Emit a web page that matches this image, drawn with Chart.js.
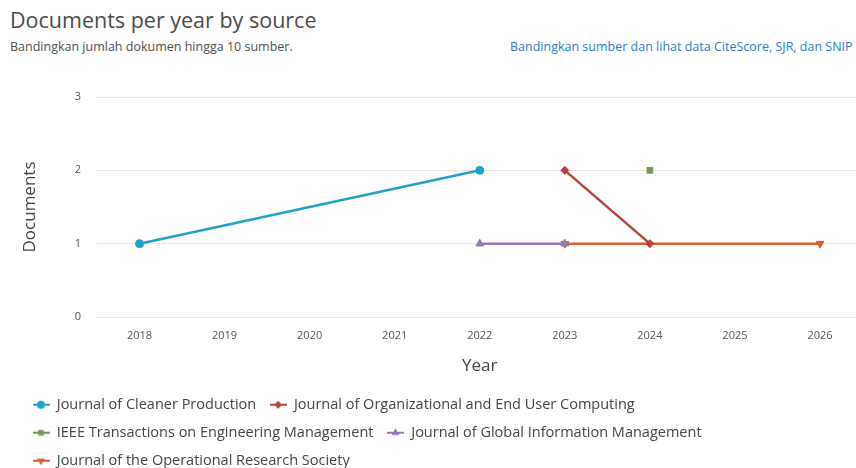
<!DOCTYPE html>
<html>
<head>
<meta charset="utf-8">
<script src="https://cdn.jsdelivr.net/npm/chart.js@4.4.1/dist/chart.umd.min.js"></script>
<style>
  html, body { margin: 0; padding: 0; background: #fff; overflow: hidden; width: 856px; height: 468px; }
  body { position: relative; font-family: "Open Sans", sans-serif; }
  #title { position: absolute; left: 10px; top: 5px; font-size: 21.5px; color: #4b4b4b; white-space: nowrap; }
  #sub { position: absolute; left: 10px; top: 38px; font-size: 12.5px; color: #505050; white-space: nowrap; }
  #link { position: absolute; left: 510px; top: 38px; font-size: 12.5px; color: #2e7bcf; white-space: nowrap; }
  #chart { position: absolute; left: 0; top: 0; }
</style>
</head>
<body>
<div id="title">Documents per year by source</div>
<div id="sub">Bandingkan jumlah dokumen hingga 10 sumber.</div>
<div id="link">Bandingkan sumber dan lihat data CiteScore, SJR, dan SNIP</div>
<canvas id="chart" width="868" height="478"></canvas>
<script>
const years = ["2018", "2019", "2020", "2021", "2022", "2023", "2024", "2025", "2026"];
const yTicks = [0, 1, 2, 3];
const cleanerProd = [1, null, null, null, 2, null, null, null, null];
const orgEndUser = [null, null, null, null, null, 2, 1, null, null];
const ieeeTem = [null, null, null, null, null, null, 2, null, null];
const globalInfo = [null, null, null, null, 1, 1, null, null, null];
const opResearch = [null, null, null, null, null, 1, null, null, 1];

// small line+marker icon for the legend, like the original
function legendIcon(color, style, rot, r) {
  const c = document.createElement("canvas");
  c.width = 17; c.height = 12;
  const g = c.getContext("2d");
  g.strokeStyle = color; g.lineWidth = 2;
  g.beginPath(); g.moveTo(0, 6); g.lineTo(17, 6); g.stroke();
  g.fillStyle = color;
  Chart.helpers.drawPoint(g, {pointStyle: style, radius: r, rotation: rot, borderWidth: 0}, 8.5, 6);
  return c;
}

function series(label, data, color, style, rot, r) {
  return {
    label: label,
    data: data,
    borderColor: color,
    backgroundColor: color,
    pointBackgroundColor: color,
    pointBorderColor: color,
    pointStyle: style,
    rotation: rot,
    pointRadius: r,
    pointBorderWidth: 1,
    borderWidth: 2.5,
    spanGaps: true,
    tension: 0,
    icon: legendIcon(color, style, rot, r)
  };
}

const ctx = document.getElementById("chart").getContext("2d");
const chart = new Chart(ctx, {
  type: "line",
  data: {
    labels: years,
    datasets: [
      series("Journal of Cleaner Production", cleanerProd, "#23a2c8", "circle", 0, 4),
      series("Journal of Organizational and End User Computing", orgEndUser, "#b5423f", "rectRot", 0, 4),
      series("IEEE Transactions on Engineering Management", ieeeTem, "#6f9a5c", "rect", 0, 4),
      series("Journal of Global Information Management", globalInfo, "#9677b8", "triangle", 0, 4.5),
      series("Journal of the Operational Research Society", opResearch, "#d9622b", "triangle", 180, 4.5)
    ]
  },
  options: {
    responsive: false,
    animation: false,
    layout: { padding: { top: 97, left: 19, right: 0, bottom: 0 } },
    scales: {
      x: {
        offset: true,
        grid: { display: false, drawTicks: false },
        border: { display: false },
        ticks: { padding: 12, color: "#555", font: { family: "Open Sans", size: 11 } },
        title: { display: true, text: "Year", color: "#444", font: { family: "Open Sans", size: 17 }, padding: { top: 4, bottom: 8 } },
        afterFit: (s) => { s.height = 67; }
      },
      y: {
        min: 0, max: 3,
        afterBuildTicks: (s) => { s.ticks = yTicks.map(v => ({value: v})); },
        grid: { color: "#e6e6e6", drawTicks: false },
        border: { display: false },
        ticks: { padding: 16, color: "#555", font: { family: "Open Sans", size: 11 } },
        title: { display: true, text: "Documents", color: "#444", font: { family: "Open Sans", size: 17 }, padding: { top: 1, bottom: 4 } },
        afterFit: (s) => { s.width = 78; }
      }
    },
    plugins: {
      tooltip: { enabled: false },
      legend: {
        position: "bottom",
        align: "start",
        labels: {
          usePointStyle: true,
          pointStyleWidth: 17,
          boxHeight: 12,
          padding: 13.5,
          color: "#444",
          font: { family: "Open Sans", size: 14.5 },
          generateLabels: (ch) => ch.data.datasets.map((d, i) => ({
            text: d.label,
            pointStyle: d.icon,
            fillStyle: d.borderColor,
            strokeStyle: d.borderColor,
            lineWidth: 0,
            fontColor: "#444",
            hidden: false,
            datasetIndex: i
          }))
        }
      }
    }
  }
});
</script>
</body>
</html>
